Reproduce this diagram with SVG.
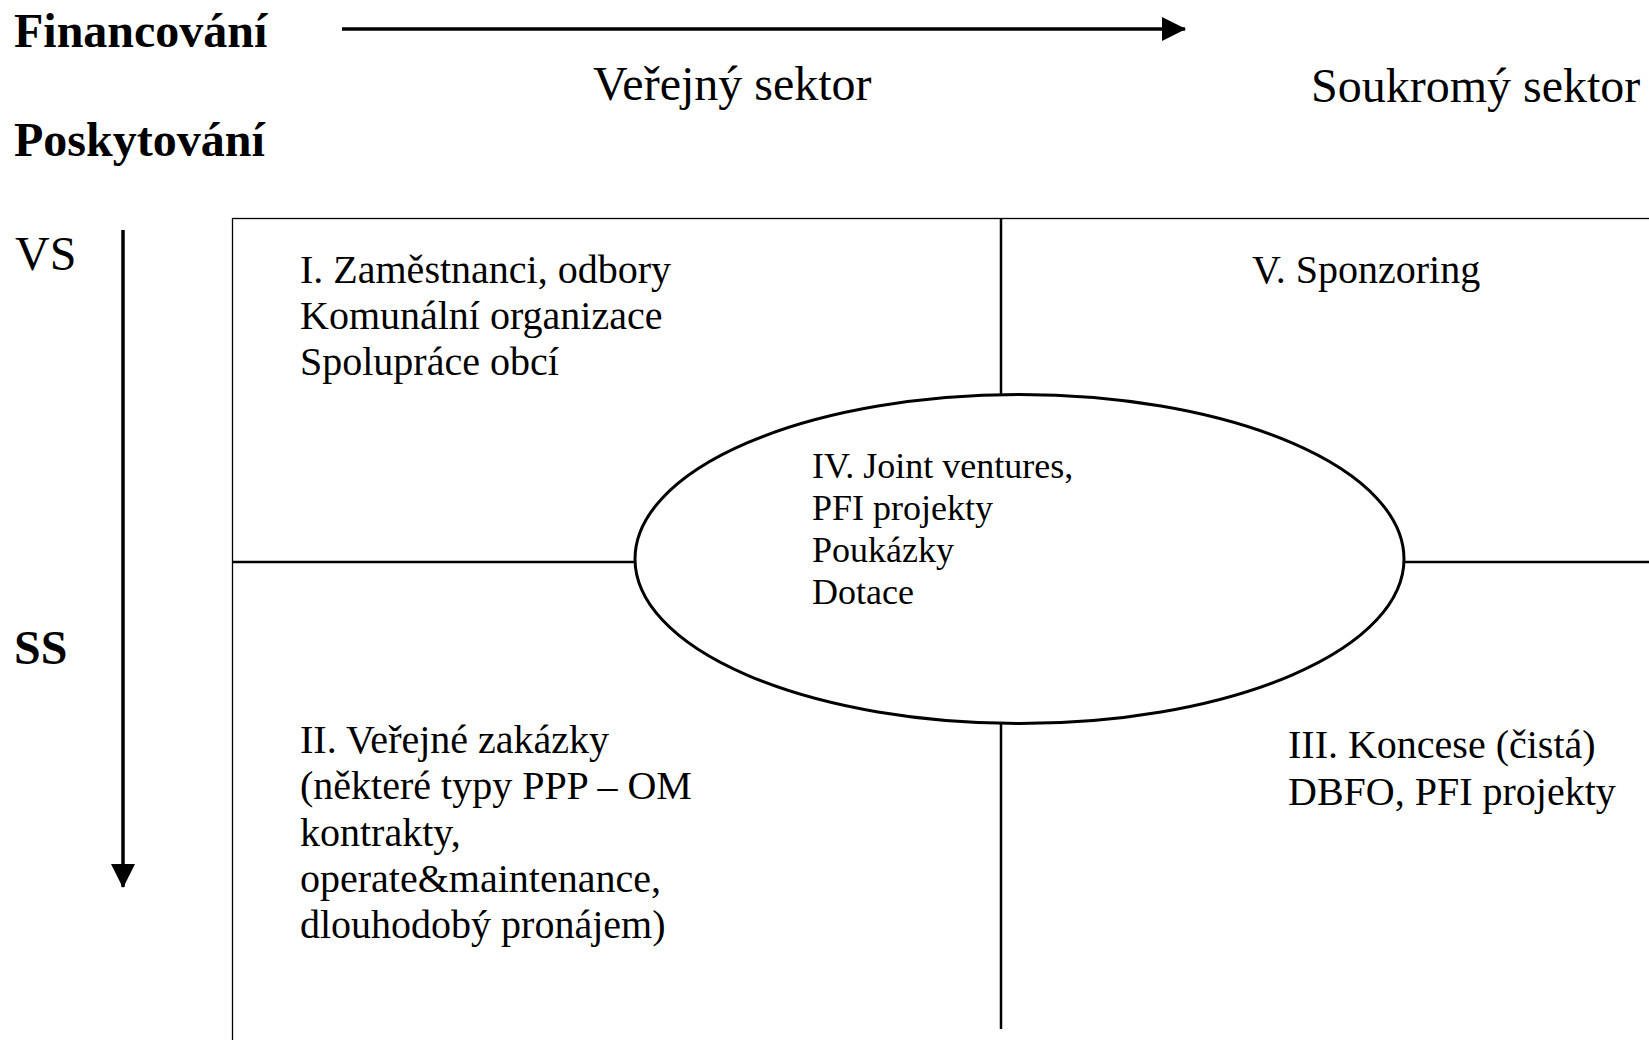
<svg xmlns="http://www.w3.org/2000/svg" width="1649" height="1040" viewBox="0 0 1649 1040">
<style>
text{font-family:"Liberation Serif","Times New Roman",serif;fill:#000}
.b{font-weight:bold;font-size:48px}
.h{font-size:48px}
.t{font-size:40px}
.e{font-size:36px}
.ln{stroke:#000;stroke-width:2.5;fill:none}
.ax{stroke:#000;stroke-width:3.5;fill:none}
</style>
<defs>
<marker id="ah" markerUnits="userSpaceOnUse" markerWidth="24" markerHeight="24" refX="23" refY="12" orient="auto">
<path d="M0,0 L24,12 L0,24 z" fill="#000"/>
</marker>
</defs>
<rect width="1649" height="1040" fill="#fff"/>
<g id="labels">
<text class="b" x="14" y="47">Financování</text>
<text class="b" x="14" y="156">Poskytování</text>
<text class="h" x="593" y="100">Veřejný sektor</text>
<text class="h" x="1311" y="102">Soukromý sektor</text>
<text class="h" x="15" y="270">VS</text>
<text class="b" x="14" y="664">SS</text>
</g>
<g id="connectors">
<line class="ax" x1="342" y1="29" x2="1185" y2="29" marker-end="url(#ah)"/>
<line class="ax" x1="123" y1="230" x2="123" y2="887" marker-end="url(#ah)"/>
<rect x="232.5" y="218.5" width="1500" height="900" fill="none" stroke="#000" stroke-width="1.3"/>
<line class="ln" x1="1001" y1="218" x2="1001" y2="396" stroke-width="3"/>
<line class="ln" x1="1001" y1="722" x2="1001" y2="1029" stroke-width="3"/>
<line class="ln" x1="232" y1="562" x2="636" y2="562"/>
<line class="ln" x1="1403" y1="562" x2="1649" y2="562"/>
</g>
<g id="q1">
<text class="t" x="300" y="283">I. Zaměstnanci, odbory</text>
<text class="t" x="300" y="329">Komunální organizace</text>
<text class="t" x="300" y="375">Spolupráce obcí</text>
</g>
<g id="q5">
<text class="t" x="1252" y="283">V. Sponzoring</text>
</g>
<g id="q2">
<text class="t" x="300" y="753">II. Veřejné zakázky</text>
<text class="t" x="300" y="799">(některé typy PPP – OM</text>
<text class="t" x="300" y="846">kontrakty,</text>
<text class="t" x="300" y="892">operate&amp;maintenance,</text>
<text class="t" x="300" y="938">dlouhodobý pronájem)</text>
</g>
<g id="q3">
<text class="t" x="1288" y="758">III. Koncese (čistá)</text>
<text class="t" x="1288" y="805">DBFO, PFI projekty</text>
</g>
<g id="q4">
<ellipse cx="1019.5" cy="559" rx="384.5" ry="164.5" fill="#fff" stroke="#000" stroke-width="3"/>
<text class="e" x="812" y="478">IV. Joint ventures,</text>
<text class="e" x="812" y="520">PFI projekty</text>
<text class="e" x="812" y="562">Poukázky</text>
<text class="e" x="812" y="604">Dotace</text>
</g>
</svg>
